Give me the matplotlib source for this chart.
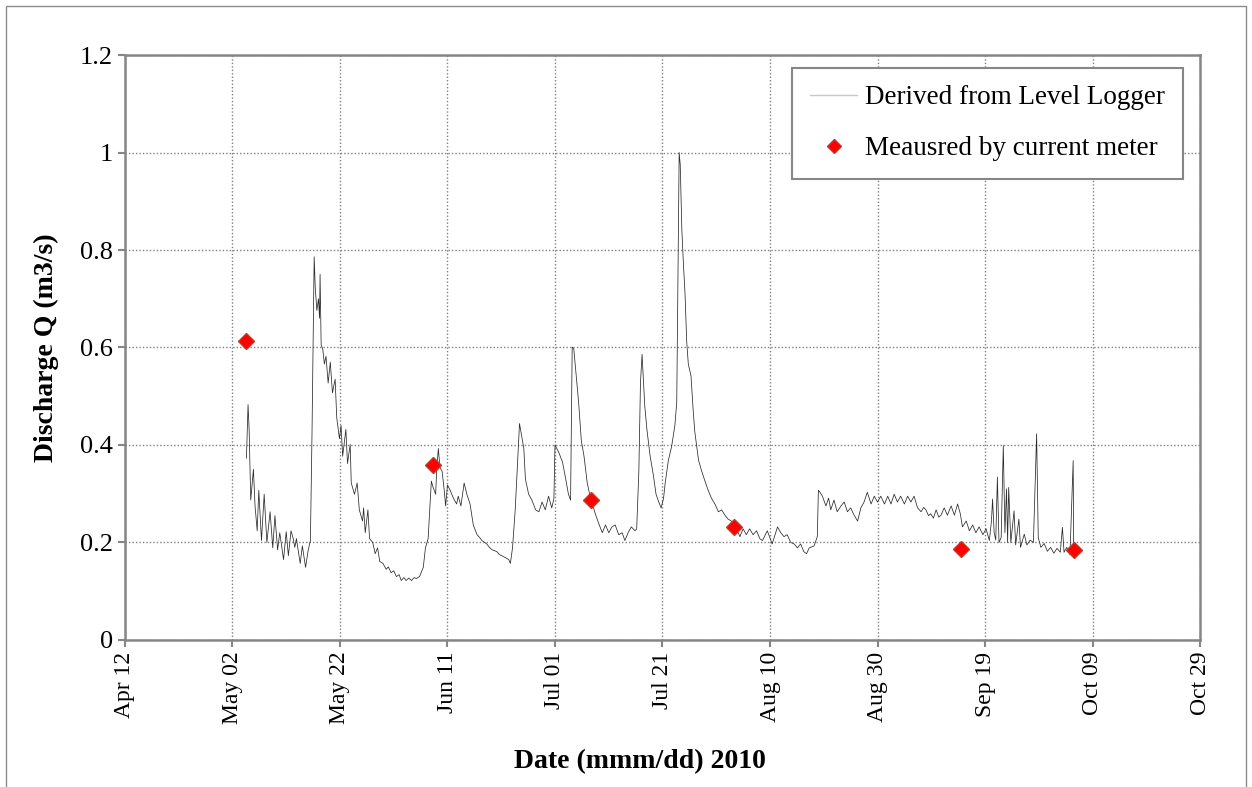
import numpy as np
import matplotlib
matplotlib.use("Agg")
import matplotlib.pyplot as plt
import matplotlib.dates as mdates
from matplotlib.lines import Line2D
from matplotlib.patches import Rectangle
from matplotlib.ticker import FuncFormatter

plt.rcParams['font.family'] = ['Liberation Serif', 'DejaVu Serif']

# logger record: days after 2010-04-12 and discharge (m3/s)
logger_day = [
    22.6, 22.9, 23.1, 23.4, 23.9, 24.2, 24.6, 24.9, 25.4, 25.9, 26.4, 27.0, 27.5, 27.9,
    28.4, 28.8, 29.5, 30.0, 30.4, 30.9, 31.3, 31.6, 31.9, 32.6, 33.0, 33.6, 34.1, 34.5,
    34.8, 35.2, 35.4, 35.7, 36.0, 36.2, 36.3, 36.5, 36.8, 37.1, 37.4, 37.8, 38.2, 38.6,
    39.1, 39.4, 39.9, 40.2, 40.5, 41.1, 41.4, 41.9, 42.1, 42.7, 43.2, 43.6, 44.2, 44.4,
    44.7, 45.2, 45.5, 46.1, 46.55, 47.0, 47.4, 48.0, 48.6, 49.0, 49.5, 50.0, 50.5, 51.0,
    51.4, 51.9, 52.3, 52.8, 53.3, 53.8, 54.2, 54.8, 55.5, 55.9, 56.4, 56.7, 57.0, 57.3,
    57.8, 58.0, 58.3, 58.6, 59.0, 59.4, 59.65, 60.0, 60.5, 61.1, 61.7, 62.0, 62.5, 63.1,
    63.6, 64.2, 64.8, 65.5, 66.0, 66.4, 66.9, 67.3, 67.8, 68.3, 68.8, 69.2, 69.7, 70.1,
    70.75, 71.4, 71.7, 72.1, 72.6, 73.1, 73.4, 73.7, 74.2, 74.5, 75.1, 75.7, 76.4, 77.0,
    77.6, 78.2, 78.8, 79.4, 79.8, 80.0, 80.7, 81.4, 82.0, 82.5, 82.9, 83.2, 83.5, 84.0,
    84.4, 84.9, 85.4, 86.0, 86.6, 87.5, 88.1, 88.8, 89.4, 90.0, 90.6, 91.2, 91.85, 92.5,
    93.0, 93.6, 94.2, 94.9, 95.2, 95.6, 95.9, 96.2, 96.7, 97.1, 97.7, 98.3, 98.8, 99.3,
    99.75, 100.2, 100.5, 101.1, 101.7, 102.3, 102.65, 102.8, 103.1, 103.3, 103.6, 103.9,
    104.2, 104.5, 104.8, 105.3, 105.7, 106.0, 106.7, 107.3, 107.9, 108.5, 109.1, 109.75,
    110.4, 111.0, 111.6, 112.2, 112.8, 113.3, 113.8, 114.4, 115.0, 115.6, 116.2, 116.85,
    117.5, 118.1, 118.6, 119.5, 120.4, 121.4, 122.0, 122.6, 123.2, 123.85, 124.5, 125.1,
    125.7, 126.3, 126.8, 127.3, 128.2, 128.8, 129.0, 129.3, 129.75, 130.4, 130.9, 131.3,
    131.9, 132.5, 133.2, 133.8, 134.4, 135.0, 135.65, 136.3, 136.9, 137.5, 138.1, 138.8,
    139.4, 140.0, 140.6, 141.3, 141.9, 142.5, 143.1, 143.7, 144.3, 145.0, 145.6, 146.2,
    146.8, 147.45, 148.1, 148.6, 149.0, 149.5, 149.9, 150.4, 150.9, 151.4, 151.8, 152.4,
    153.0, 153.7, 154.3, 154.9, 155.4, 155.8, 156.5, 157.1, 157.7, 158.3, 158.9, 159.6,
    160.2, 160.8, 161.2, 161.4, 161.7, 162.0, 162.3, 162.6, 163.0, 163.4, 163.7, 164.0,
    164.2, 164.4, 164.8, 165.4, 165.7, 166.3, 166.6, 167.3, 167.8, 168.4, 169.0, 169.6,
    169.9, 170.4, 171.0, 171.6, 172.2, 172.8, 173.4, 174.0, 174.4, 174.7, 175.2, 175.8,
    176.4, 176.5,
]
logger_q = [
    0.373, 0.483, 0.432, 0.287, 0.350, 0.275, 0.224, 0.307, 0.204, 0.299, 0.200, 0.263, 0.189, 0.255,
    0.185, 0.220, 0.165, 0.222, 0.173, 0.224, 0.208, 0.190, 0.208, 0.157, 0.193, 0.149, 0.185, 0.204,
    0.425, 0.786, 0.723, 0.676, 0.700, 0.660, 0.750, 0.605, 0.597, 0.566, 0.582, 0.527, 0.570, 0.507,
    0.535, 0.456, 0.413, 0.440, 0.377, 0.432, 0.362, 0.401, 0.322, 0.299, 0.322, 0.267, 0.244, 0.271,
    0.220, 0.267, 0.208, 0.200, 0.177, 0.189, 0.161, 0.157, 0.145, 0.150, 0.138, 0.142, 0.130, 0.134,
    0.122, 0.128, 0.122, 0.127, 0.122, 0.128, 0.126, 0.130, 0.149, 0.189, 0.208, 0.267, 0.326, 0.314,
    0.299, 0.350, 0.393, 0.354, 0.346, 0.307, 0.275, 0.318, 0.307, 0.291, 0.279, 0.295, 0.275, 0.322,
    0.299, 0.279, 0.236, 0.216, 0.210, 0.204, 0.200, 0.197, 0.190, 0.185, 0.183, 0.181, 0.175, 0.173,
    0.169, 0.165, 0.157, 0.189, 0.267, 0.377, 0.444, 0.425, 0.393, 0.330, 0.299, 0.287, 0.267, 0.263,
    0.283, 0.267, 0.295, 0.271, 0.290, 0.400, 0.385, 0.365, 0.330, 0.299, 0.287, 0.601, 0.597, 0.535,
    0.487, 0.409, 0.377, 0.322, 0.291, 0.259, 0.240, 0.220, 0.236, 0.220, 0.232, 0.236, 0.216, 0.220,
    0.204, 0.220, 0.232, 0.224, 0.228, 0.346, 0.527, 0.586, 0.480, 0.432, 0.377, 0.338, 0.299, 0.283,
    0.271, 0.291, 0.322, 0.369, 0.397, 0.440, 0.487, 0.660, 1.000, 0.975, 0.841, 0.770,
    0.708, 0.613, 0.566, 0.542, 0.472, 0.428, 0.369, 0.346, 0.326, 0.307, 0.291, 0.279,
    0.263, 0.267, 0.256, 0.248, 0.244, 0.235, 0.228, 0.212, 0.228, 0.216, 0.228, 0.216,
    0.224, 0.208, 0.204, 0.224, 0.197, 0.232, 0.220, 0.212, 0.216, 0.200, 0.197, 0.189,
    0.197, 0.181, 0.177, 0.189, 0.193, 0.212, 0.307, 0.303, 0.295, 0.275, 0.291, 0.267,
    0.287, 0.263, 0.275, 0.283, 0.263, 0.271, 0.256, 0.244, 0.271, 0.283, 0.303, 0.279,
    0.295, 0.283, 0.295, 0.279, 0.295, 0.279, 0.299, 0.283, 0.295, 0.279, 0.295, 0.283,
    0.295, 0.271, 0.263, 0.272, 0.267, 0.255, 0.259, 0.250, 0.267, 0.252, 0.256, 0.271,
    0.256, 0.275, 0.256, 0.279, 0.259, 0.232, 0.244, 0.224, 0.236, 0.220, 0.232, 0.216,
    0.228, 0.204, 0.244, 0.289, 0.220, 0.205, 0.334, 0.200, 0.210, 0.399, 0.220, 0.310,
    0.200, 0.313, 0.200, 0.265, 0.195, 0.248, 0.190, 0.217, 0.195, 0.205, 0.200, 0.423,
    0.210, 0.190, 0.198, 0.182, 0.190, 0.178, 0.188, 0.180, 0.231, 0.180, 0.190, 0.175,
    0.368, 0.185,
]

# current meter gaugings
meter_day = [22.6, 57.3, 86.7, 113.3, 155.5, 176.5]
meter_q = [0.613, 0.358, 0.287, 0.232, 0.186, 0.184]

start = np.datetime64('2010-04-12T00:00')


def to_time(days):
    return start + (np.array(days) * 24 * 60).round().astype('timedelta64[m]')


fig = plt.figure(figsize=(12.52, 7.87), dpi=100)
ax = fig.add_axes([0.0998, 0.1868, 0.8587, 0.7433])

ax.plot(to_time(logger_day), logger_q, color='#2a2a2a', linewidth=0.55)
ax.plot(to_time(meter_day), meter_q, linestyle='none', marker='D', markersize=8,
        markerfacecolor='#ff0000', markeredgecolor='#c0392b', markeredgewidth=1)

xticks = np.arange(np.datetime64('2010-04-12'), np.datetime64('2010-10-30'), 20)
ax.set_xlim(xticks[0], xticks[-1])
ax.set_xticks(xticks)
ax.xaxis.set_major_formatter(mdates.DateFormatter('%b %d'))
ax.set_ylim(0, 1.2)
ax.set_yticks(np.arange(0, 1.21, 0.2))
ax.yaxis.set_major_formatter(FuncFormatter(lambda v, p: f'{v:g}'))

ax.grid(True, color='#808080', linestyle=(0, (1, 1.5)), linewidth=1)
for s in ax.spines.values():
    s.set_color('#868686')
    s.set_linewidth(1.8)
ax.tick_params(axis='both', colors='#868686', length=5, width=1.5, direction='out',
               labelcolor='black', labelsize=19)
ax.tick_params(axis='x', rotation=90, labelsize=17)

ax.set_ylabel('Discharge Q (m3/s)', fontsize=20, fontweight='bold')
ax.yaxis.set_label_coords(-0.061, 0.5)
ax.set_xlabel('Date (mmm/dd) 2010', fontsize=20, fontweight='bold')
ax.xaxis.set_label_coords(0.479, -0.187)

handles = [
    Line2D([], [], color='#c8c8c8', linewidth=1),
    Line2D([], [], linestyle='none', marker='D', markersize=7,
           markerfacecolor='#ff0000', markeredgecolor='#c0392b'),
]
leg = ax.legend(handles, ['Derived from Level Logger', 'Meausred by current meter'],
                loc='upper right', bbox_to_anchor=(0.984, 0.978), borderaxespad=0,
                fontsize=19.5, fancybox=False, framealpha=1, edgecolor='#868686',
                labelspacing=0.95, handlelength=1.75, handletextpad=0.3,
                borderpad=0.65)
leg.get_frame().set_linewidth(1.5)

# thin frame around the whole chart
fig.add_artist(Rectangle((0.005, -0.01), 0.99, 1.002, transform=fig.transFigure,
                         fill=False, edgecolor='#8c8c8c', linewidth=1))

fig.savefig('out.png', dpi=100)
